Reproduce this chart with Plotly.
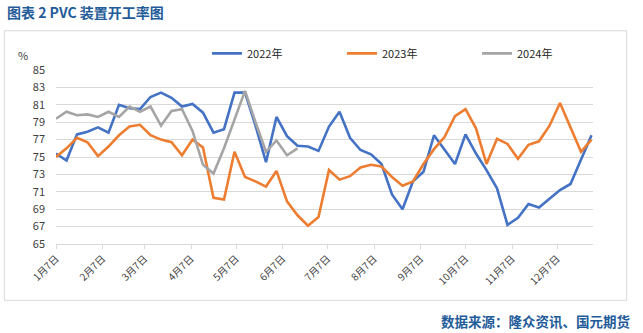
import pandas as pd
import plotly.graph_objects as go

# Weekly observation dates (plotted on a common year axis)
dates = pd.date_range("2022-01-07", periods=52, freq="7D")

y2022 = [75.4, 74.6, 77.6, 77.9, 78.4, 77.8, 81.0, 80.6, 80.5, 81.9,
         82.4, 81.8, 80.8, 81.1, 80.1, 77.8, 78.2, 82.4, 82.4, 78.6,
         74.4, 79.6, 77.4, 76.3, 76.2, 75.7, 78.5, 80.2, 77.2, 75.8,
         75.3, 74.2, 70.7, 69.0, 72.2, 73.3, 77.5, 75.8, 74.2, 77.6,
         75.4, 73.5, 71.4, 67.2, 68.0, 69.6, 69.2, 70.2, 71.2, 71.9,
         74.8, 77.5]
y2023 = [75.0, 76.0, 77.2, 76.7, 75.1, 76.2, 77.5, 78.5, 78.7, 77.5,
         77.0, 76.7, 75.2, 77.0, 76.1, 70.3, 70.1, 75.6, 72.7, 72.2,
         71.6, 73.4, 69.9, 68.3, 67.1, 68.1, 73.5, 72.4, 72.8, 73.8,
         74.1, 73.9, 72.7, 71.7, 72.2, 74.2, 75.9, 77.3, 79.7, 80.5,
         78.3, 74.2, 77.1, 76.5, 74.8, 76.4, 76.8, 78.6, 81.2, 78.5,
         75.6, 77.0]
y2024 = [79.4, 80.2, 79.8, 79.9, 79.6, 80.2, 79.6, 80.8, 80.2, 80.8,
         78.6, 80.3, 80.5, 78.0, 74.1, 73.1, 76.0, 79.2, 82.6, 79.0,
         75.6, 76.9, 75.2, 76.0]

tick_dates = ["2022-%02d-07" % m for m in range(1, 13)]
tick_labels = ["1月7日", "2月7日", "3月7日", "4月7日", "5月7日", "6月7日",
               "7月7日", "8月7日", "9月7日", "10月7日", "11月7日", "12月7日"]

series = [("2022年", y2022, "#4472C4"),
          ("2023年", y2023, "#ED7D31"),
          ("2024年", y2024, "#A5A5A5")]

fig = go.Figure()
for name, ys, col in series:
    fig.add_trace(go.Scatter(x=dates[:len(ys)], y=ys, mode="lines", name=name,
                             line=dict(color=col, width=2.6)))

W, H = 643, 333
L, R, T, B = 56, 593, 70, 244.3
pw, ph = R - L, B - T
def px(x):
    return (x - L) / pw
def py(y):
    return (B - y) / ph

fig.update_layout(
    width=W, height=H,
    margin=dict(l=L, r=W - R, t=T, b=H - B, pad=0),
    paper_bgcolor="white", plot_bgcolor="white",
    font=dict(family="Noto Sans CJK SC, Noto Sans, sans-serif", size=11, color="#404040"),
    showlegend=True,
    legend=dict(orientation="h", x=px(207), y=py(53.3), xanchor="left", yanchor="middle",
                font=dict(size=11, color="#262626"), entrywidth=90, entrywidthmode="pixels",
                bgcolor="rgba(0,0,0,0)", itemwidth=30),
    xaxis=dict(type="date", range=["2022-01-07", "2022-12-31"],
               tickvals=tick_dates, ticktext=tick_labels, tickangle=-45,
               showgrid=False, showline=True, linecolor="#D9D9D9", linewidth=1,
               ticks="outside", ticklen=4, tickcolor="#D9D9D9",
               tickfont=dict(size=10, color="#404040"), zeroline=False),
    yaxis=dict(range=[65, 85], dtick=2, tick0=65, showgrid=True, gridcolor="#D9D9D9",
               gridwidth=1, zeroline=False, showline=False, ticks="",
               ticklabelstandoff=10, tickfont=dict(size=11, color="#404040")),
)

fig.add_shape(type="rect", xref="paper", yref="paper",
              x0=px(4.3), x1=px(626.7), y0=py(300.7), y1=py(30.7),
              line=dict(color="#D9D9D9", width=1), fillcolor="rgba(0,0,0,0)", layer="below")

fig.add_annotation(text="<b>图表 2 PVC 装置开工率图</b>", xref="paper", yref="paper",
                   x=px(5), y=py(11.7), xanchor="left", yanchor="middle", showarrow=False,
                   font=dict(size=14, color="#1F5C99", family="Noto Sans CJK SC"))
fig.add_annotation(text="%", xref="paper", yref="paper",
                   x=px(23), y=py(55), xanchor="center", yanchor="middle", showarrow=False,
                   font=dict(size=11, color="#404040"))
fig.add_annotation(text="<b>数据来源：隆众资讯、国元期货</b>", xref="paper", yref="paper",
                   x=px(632), y=py(321.7), xanchor="right", yanchor="middle", showarrow=False,
                   font=dict(size=13.5, color="#1F5C99", family="Noto Sans CJK SC"))

fig.write_html("out.html")
